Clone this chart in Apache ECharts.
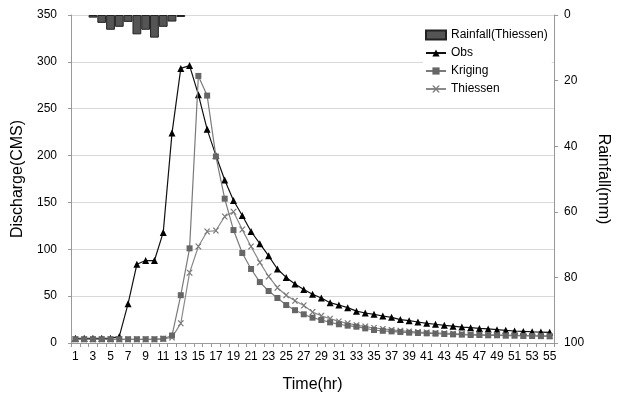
<!DOCTYPE html>
<html><head><meta charset="utf-8">
<script src="https://cdn.jsdelivr.net/npm/echarts@6/dist/echarts.min.js"></script>
<style>html,body{margin:0;padding:0;background:#fff}#c{width:619px;height:400px}</style>
</head><body><div id="c"></div>
<script>
const hours = ['1','2','3','4','5','6','7','8','9','10','11','12','13','14','15','16','17','18','19','20','21','22','23','24','25','26','27','28','29','30','31','32','33','34','35','36','37','38','39','40','41','42','43','44','45','46','47','48','49','50','51','52','53','54','55'];
const rainfall = [null,null,0.8,2.4,4.5,3.6,2.1,5.9,4.5,6.9,3.6,2.0,0.6,
  null,null,null,null,null,null,null,null,null,null,null,null,null,null,null,null,null,null,null,null,null,null,null,null,null,null,null,null,null,null,null,null,null,null,null,null,null,null,null,null,null,null];
const obs = [5,5,5,5,5,7,42,84,88,88,
  118,224,293,296,265,228,200,174,152,136,
  119,106,93,79,70,63,57,52,48,43,
  40.5,37.7,34,32,30.6,28.8,27.4,25,23.8,22.4,
  21,20,18.9,18,17,16.4,15.6,15,14.2,13.5,
  12.8,12.4,12,11.7,11.4];
const kriging = [4,4,4,4,4,4,4,4,4,4,
  4.5,8,51,101,285,264,199,154,120.5,96,
  79,65,55.5,48,40.5,35,30.6,27,24.5,22,
  20,18.5,17.4,15.6,13.9,13,12.4,11.7,11,10.7,
  10.3,10,9.6,9.2,8.9,8.5,8.5,8.2,8.2,7.8,
  7.8,7.5,7.5,7.3,7.1];
const thiessen = [4,4,4,4,4,4,4,4,4,4,
  4.5,6,21,75,103,119,120,135,140,121,
  103,86,71,59,51,45,40,33,29,26,
  23,21,19,17.5,16,15,14,13,12.3,11.7,
  11.2,10.8,10.4,10,9.6,9.3,9,8.8,8.6,8.4,
  8.2,8,7.8,7.7,7.5];
const dischargeAxis = {min: 0, max: 350, interval: 50};
const rainAxis = {min: 0, max: 100, interval: 20};
const seriesNames = ['Rainfall(Thiessen)', 'Obs', 'Kriging', 'Thiessen'];

const xMark = 'path://M0,0 L2,0 L5,3.5 L8,0 L10,0 L10,1 L6,5 L10,9 L10,10 L8,10 L5,6.5 L2,10 L0,10 L0,9 L4,5 L0,1 Z';
const font = 'Liberation Sans, Arial, sans-serif';
const chart = echarts.init(document.getElementById('c'), null, {renderer: 'canvas'});
chart.setOption({
  animation: false,
  textStyle: {fontFamily: font},
  grid: {left: 71, right: 57, top: 15, bottom: 57, containLabel: false},
  legend: {
    orient: 'vertical', left: 423, top: 27, itemWidth: 20, itemHeight: 9, itemGap: 6,
    backgroundColor: '#fff', padding: [2, 4, 2, 2],
    textStyle: {fontSize: 12, color: '#000', fontFamily: font},
    data: [
      {name: seriesNames[0], icon: 'rect'},
      {name: seriesNames[1]},
      {name: seriesNames[2]},
      {name: seriesNames[3]}
    ]
  },
  xAxis: {
    type: 'category', data: hours, boundaryGap: true,
    axisLine: {lineStyle: {color: '#999'}},
    axisTick: {show: true, interval: 0, length: 4, lineStyle: {color: '#999'}},
    axisLabel: {interval: 1, color: '#000', fontSize: 12, margin: 8},
    name: 'Time(hr)', nameLocation: 'middle', nameGap: 34,
    nameTextStyle: {fontSize: 16, color: '#000'}
  },
  yAxis: [{
    type: 'value', position: 'left', min: dischargeAxis.min, max: dischargeAxis.max, interval: dischargeAxis.interval,
    axisLine: {show: true, lineStyle: {color: '#999'}},
    axisTick: {show: true, length: 3, lineStyle: {color: '#999'}},
    axisLabel: {color: '#000', fontSize: 12, margin: 14},
    splitLine: {lineStyle: {color: '#d9d9d9', width: 1}},
    name: 'Discharge(CMS)', nameLocation: 'middle', nameGap: 44, nameRotate: 90,
    nameTextStyle: {fontSize: 16, color: '#000'}
  }, {
    type: 'value', position: 'right', inverse: true, min: rainAxis.min, max: rainAxis.max, interval: rainAxis.interval,
    axisLine: {show: true, lineStyle: {color: '#999'}},
    axisTick: {show: true, length: 4, lineStyle: {color: '#999'}},
    axisLabel: {color: '#000', fontSize: 12, margin: 10},
    splitLine: {show: false},
    name: 'Rainfall(mm)', nameLocation: 'middle', nameGap: 34, nameRotate: -90,
    nameTextStyle: {fontSize: 16, color: '#000'}
  }],
  series: [{
    name: seriesNames[0], type: 'bar', yAxisIndex: 1, data: rainfall,
    barCategoryGap: '0%', z: 1,
    itemStyle: {color: '#555', borderColor: '#222', borderWidth: 1}
  }, {
    name: seriesNames[1], type: 'line', data: obs, z: 3,
    symbol: 'triangle', symbolSize: 7, showAllSymbol: true,
    lineStyle: {color: '#111', width: 1.2}, itemStyle: {color: '#000'}
  }, {
    name: seriesNames[3], type: 'line', data: thiessen, z: 4,
    symbol: xMark, symbolSize: 6, showAllSymbol: true,
    lineStyle: {color: '#8a8a8a', width: 1.2}, itemStyle: {color: '#7a7a7a'}
  }, {
    name: seriesNames[2], type: 'line', data: kriging, z: 5,
    symbol: 'rect', symbolSize: 6, showAllSymbol: true,
    lineStyle: {color: '#7a7a7a', width: 1.2}, itemStyle: {color: '#666'}
  }]
});
</script>
</body></html>
